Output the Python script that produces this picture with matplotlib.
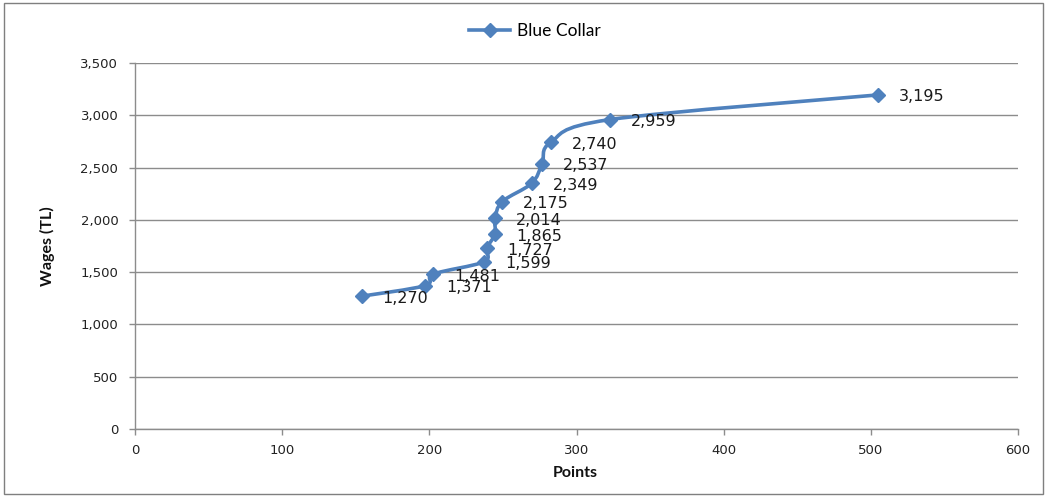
import matplotlib
matplotlib.use("Agg")
import matplotlib.pyplot as plt
import numpy as np
from matplotlib.path import Path
from matplotlib.patches import PathPatch, Rectangle
from matplotlib.lines import Line2D
from matplotlib.ticker import FuncFormatter

plt.rcParams["font.family"] = ["DejaVu Sans"]

# Data
points = [154, 197, 202.7, 237.1, 238.9, 244.6, 244.6, 249.6, 269.5, 276.7, 282.4, 322.7, 505]
wages = [1270, 1371, 1481, 1599, 1727, 1865, 2014, 2175, 2349, 2537, 2740, 2959, 3195]
series_name = "Blue Collar"
x_ticks = [0, 100, 200, 300, 400, 500, 600]
y_ticks = [0, 500, 1000, 1500, 2000, 2500, 3000, 3500]

BLUE = "#4F81BD"
GRID = "#8C8C8C"

W, H = 1047, 496
fig = plt.figure(figsize=(W / 100, H / 100), dpi=100)
fig.patch.set_facecolor("white")

# chart border
fig.patches.append(Rectangle((4 / W, 2 / H), 1039 / W, 491 / H, transform=fig.transFigure,
                             fill=False, edgecolor="#7F7F7F", linewidth=1.0))

ax = fig.add_axes([135 / W, (H - 429) / H, (1018 - 135) / W, (429 - 63) / H])
ax.set_xlim(0, 600)
ax.set_ylim(0, 3500)

# smooth curve (Catmull-Rom as cubic Bezier)
P = np.column_stack([points, wages]).astype(float)
n = len(P)
verts = [tuple(P[0])]
codes = [Path.MOVETO]
for i in range(n - 1):
    p0 = P[i - 1] if i > 0 else P[i]
    p1 = P[i]
    p2 = P[i + 1]
    p3 = P[i + 2] if i + 2 < n else P[i + 1]
    c1 = p1 + (p2 - p0) / 6.0
    c2 = p2 - (p3 - p1) / 6.0
    verts += [tuple(c1), tuple(c2), tuple(p2)]
    codes += [Path.CURVE4] * 3
ax.add_patch(PathPatch(Path(verts, codes), fill=False, edgecolor=BLUE, linewidth=2.6,
                       capstyle="round", joinstyle="round", zorder=3))
ax.plot(points, wages, linestyle="none", marker="D", markersize=7.5, color=BLUE,
        markeredgecolor=BLUE, zorder=4)

for xv, yv in zip(points, wages):
    ax.annotate(f"{yv:,}", (xv, yv), xytext=(15, -1.5), textcoords="offset points",
                ha="left", va="center", fontsize=11.5, color="#1a1a1a", zorder=5)

# axes styling
ax.set_xticks(x_ticks)
ax.set_yticks(y_ticks)
ax.yaxis.set_major_formatter(FuncFormatter(lambda v, p: f"{int(v):,}"))
ax.grid(axis="y", color=GRID, linewidth=1.0)
ax.set_axisbelow(True)
for s in ["top", "right"]:
    ax.spines[s].set_visible(False)
for s in ["left", "bottom"]:
    ax.spines[s].set_color(GRID)
    ax.spines[s].set_linewidth(1.0)
ax.tick_params(axis="both", direction="out", length=4, color=GRID, width=1.0,
               labelsize=9.5, labelcolor="#222222")
ax.tick_params(axis="x", pad=7)
ax.tick_params(axis="y", pad=8)

ax.set_xlabel("Points", fontsize=11.5, fontweight="bold", family="Lato", color="#111111")
ax.set_ylabel("Wages (TL)", fontsize=11.5, fontweight="bold", family="Lato", color="#111111")
ax.xaxis.set_label_coords(0.499, -0.10)
ax.yaxis.set_label_coords(-0.091, 0.5)

handle = Line2D([], [], color=BLUE, linewidth=2.6, marker="D", markersize=7, markeredgecolor=BLUE)
leg = fig.legend([handle], [series_name], loc="center", bbox_to_anchor=(535 / W, 1 - 31 / H),
                 frameon=False, prop={"family": "Lato", "size": 12.5}, handlelength=2.4,
                 handletextpad=0.4, borderpad=0.2)

fig.savefig("out.png", dpi=100, facecolor="white")
